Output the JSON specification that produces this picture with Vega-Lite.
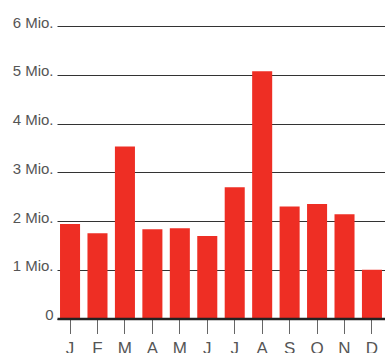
{
  "$schema": "https://vega.github.io/schema/vega-lite/v6.json",
  "width": 328,
  "height": 292.5,
  "autosize": {"type": "none"},
  "padding": {"left": 57, "top": 26, "right": 0, "bottom": 34.5},
  "background": "white",
  "config": {
    "view": {"stroke": null},
    "font": "Liberation Sans"
  },
  "data": {
    "values": [
      {"monat": "Januar", "besucher": 1940000},
      {"monat": "Februar", "besucher": 1750000},
      {"monat": "März", "besucher": 3530000},
      {"monat": "April", "besucher": 1830000},
      {"monat": "Mai", "besucher": 1850000},
      {"monat": "Juni", "besucher": 1690000},
      {"monat": "Juli", "besucher": 2690000},
      {"monat": "August", "besucher": 5070000},
      {"monat": "September", "besucher": 2300000},
      {"monat": "Oktober", "besucher": 2350000},
      {"monat": "November", "besucher": 2140000},
      {"monat": "Dezember", "besucher": 1000000}
    ]
  },
  "mark": {"type": "bar", "color": "#EE2E24"},
  "encoding": {
    "x": {
      "field": "monat",
      "type": "nominal",
      "sort": null,
      "scale": {"paddingInner": 0.27, "paddingOuter": 0.11},
      "axis": {
        "title": null,
        "labelAngle": 0,
        "labelExpr": "substring(datum.value, 0, 1)",
        "labelFontSize": 17,
        "labelColor": "#555555",
        "labelPadding": 7,
        "labelBaseline": "top",
        "tickSize": 15,
        "tickColor": "#666666",
        "tickWidth": 1,
        "domainColor": "#222222",
        "domainWidth": 2.5,
        "zindex": 1
      }
    },
    "y": {
      "field": "besucher",
      "type": "quantitative",
      "scale": {"domain": [0, 6000000], "nice": false},
      "axis": {
        "title": null,
        "values": [0, 1000000, 2000000, 3000000, 4000000, 5000000, 6000000],
        "labelExpr": "datum.value == 0 ? '0' : format(datum.value / 1000000, 'd') + ' Mio.'",
        "labelFontSize": 15,
        "labelColor": "#555555",
        "labelPadding": 4,
        "labelBaseline": "alphabetic",
        "labelOffset": 1,
        "ticks": false,
        "domain": false,
        "grid": true,
        "gridColor": "#333333",
        "gridWidth": 1,
        "gridOpacity": 1
      }
    }
  }
}
